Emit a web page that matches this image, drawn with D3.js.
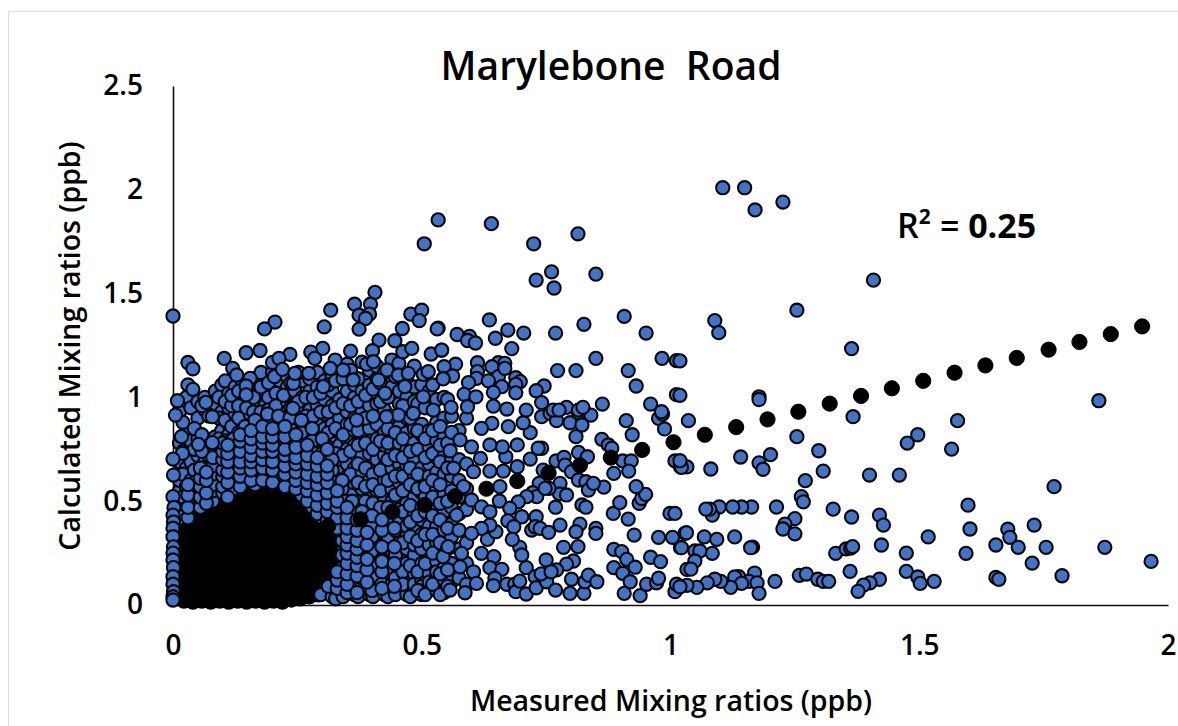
<!DOCTYPE html>
<html><head><meta charset="utf-8">
<script src="https://cdn.jsdelivr.net/npm/d3@7/dist/d3.min.js"></script>
<style>html,body{margin:0;background:#fff}svg{display:block}text{font-family:"Open Sans",sans-serif;fill:#000;white-space:pre}</style>
</head><body><svg id="c" width="1178" height="726"></svg>
<script>
const titleText = "Marylebone  Road";
const xLabel = "Measured Mixing ratios (ppb)";
const yLabel = "Calculated Mixing ratios (ppb)";
const xTicks = [0, 0.5, 1, 1.5, 2];
const yTicks = [0, 0.5, 1, 1.5, 2, 2.5];

// Model line drawn as black dots: [measured, calculated]
const trendPairs = [[0.312,0.38],[0.377,0.413],[0.441,0.449],[0.506,0.482],[0.567,0.524],[0.63,0.56],[0.692,0.597],[0.755,0.636],[0.818,0.673],[0.88,0.71],[0.943,0.747],[1.006,0.784],[1.069,0.82],[1.132,0.857],[1.195,0.894],[1.257,0.931],[1.32,0.97],[1.383,1.007],[1.445,1.044],[1.508,1.08],[1.571,1.119],[1.633,1.154],[1.696,1.19],[1.76,1.23],[1.822,1.267],[1.885,1.305],[1.948,1.342]];

// Points at measured ≈ 0
const zeroPairs = [[0,1.392],[0,0.703],[0.001,0.626],[0,0.522],[0.002,0.47],[0,0.433],[0.001,0.4],[0,0.37],[0,0.329],[0.001,0.28],[0,0.25],[0,0.217],[0.001,0.18],[0,0.136],[0,0.1],[0.001,0.064],[0,0.04],[0,0.024]];

// Sparse points, right of the cloud
const farPairs = [[1.105,2.01],[1.149,2.01],[1.17,1.903],[1.226,1.941],[1.408,1.565],[1.254,1.42],[1.089,1.37],[1.097,1.312],[1.364,1.235],[1.178,1.003],[1.178,0.99],[1.019,1.176],[1.019,1.01],[1.036,0.888],[1.254,0.811],[1.367,0.907],[1.577,0.888],[1.497,0.82],[1.476,0.78],[1.565,0.751],[1.298,0.743],[1.141,0.713],[1.201,0.724],[1.178,0.685],[1.186,0.654],[1.081,0.655],[1.033,0.665],[1.022,0.663],[1.019,0.695],[1.307,0.645],[1.271,0.599],[1.4,0.626],[1.46,0.626],[1.263,0.522],[1.267,0.497],[1.598,0.481],[1.327,0.462],[1.364,0.424],[1.42,0.433],[1.428,0.385],[1.602,0.366],[1.518,0.328],[1.424,0.289],[1.474,0.25],[1.594,0.249],[1.332,0.249],[1.353,0.27],[1.362,0.274],[1.366,0.281],[1.361,0.162],[1.474,0.162],[1.497,0.135],[1.502,0.104],[1.53,0.114],[1.42,0.124],[1.401,0.107],[1.388,0.096],[1.377,0.066],[1.259,0.143],[1.273,0.149],[1.296,0.124],[1.307,0.114],[1.318,0.114],[1.213,0.472],[1.25,0.416],[1.23,0.39],[1.226,0.366],[1.25,0.343],[1.163,0.472],[1.143,0.472],[1.125,0.472],[1.098,0.472],[1.084,0.433],[1.079,0.462],[1.071,0.462],[1.032,0.348],[1.068,0.328],[1.093,0.316],[1.129,0.328],[1.165,0.279],[1.161,0.276],[1.084,0.249],[1.049,0.26],[1.059,0.26],[1.022,0.276],[1.049,0.212],[1.041,0.173],[1.169,0.154],[1.21,0.114],[1.137,0.136],[1.129,0.135],[1.158,0.114],[1.174,0.107],[1.178,0.056],[1.143,0.104],[1.121,0.085],[1.101,0.114],[1.089,0.124],[1.074,0.107],[1.053,0.085],[1.033,0.095],[1.019,0.088],[1.861,0.984],[1.771,0.57],[1.678,0.365],[1.682,0.326],[1.731,0.385],[1.654,0.289],[1.699,0.278],[1.755,0.278],[1.873,0.278],[1.966,0.21],[1.727,0.202],[1.787,0.141],[1.654,0.133],[1.66,0.124]];

// Points from the upper-middle part of the cloud
const upperMidPairs = [[0.64,1.837],[0.533,1.855],[0.814,1.788],[0.725,1.74],[0.505,1.74],[0.761,1.605],[0.85,1.594],[0.73,1.565],[0.766,1.527],[0.907,1.39],[0.826,1.352],[0.636,1.373],[0.769,1.31],[0.951,1.31],[0.673,1.324],[0.705,1.31],[0.648,1.285],[0.571,1.303],[0.596,1.294],[0.592,1.274],[0.608,1.262],[0.533,1.334],[0.54,1.228],[0.681,1.235],[0.85,1.188],[0.983,1.188],[1.012,1.177],[0.915,1.129],[0.81,1.129],[0.773,1.129],[0.568,1.16],[0.612,1.167],[0.654,1.167],[0.667,1.164],[0.641,1.148],[0.545,1.148],[0.562,1.103],[0.543,1.092],[0.612,1.124],[0.61,1.092],[0.654,1.1],[0.667,1.14],[0.689,1.095],[0.698,1.076],[0.689,1.063],[0.634,1.08],[0.594,1.071],[0.661,1.052],[0.746,1.055],[0.73,1.032],[0.931,1.055],[1.012,1.013],[0.644,1.024],[0.585,1.015],[0.609,1.003],[0.689,1.022],[0.741,0.975],[0.863,0.968],[0.96,0.968],[0.644,0.958],[0.592,0.955],[0.559,0.952],[0.671,0.944],[0.71,0.939],[0.764,0.939],[0.791,0.952],[0.776,0.939],[0.815,0.939],[0.824,0.952],[0.982,0.931]];

// Points from the lower-middle part of the cloud
const lowerMidPairs = [[0.741,0.907],[0.758,0.923],[0.771,0.888],[0.798,0.878],[0.815,0.926],[0.84,0.915],[0.822,0.867],[0.81,0.811],[0.911,0.888],[0.923,0.82],[0.976,0.899],[0.984,0.92],[0.988,0.848],[1.009,0.694],[1.02,0.666],[0.862,0.798],[0.875,0.771],[0.882,0.755],[0.904,0.694],[0.921,0.694],[0.916,0.645],[0.886,0.634],[0.866,0.568],[0.815,0.735],[0.833,0.714],[0.77,0.694],[0.786,0.711],[0.788,0.674],[0.801,0.642],[0.815,0.602],[0.83,0.594],[0.835,0.554],[0.845,0.586],[0.778,0.586],[0.777,0.535],[0.791,0.53],[0.756,0.562],[0.744,0.65],[0.736,0.586],[0.723,0.541],[0.731,0.522],[0.748,0.562],[0.711,0.522],[0.694,0.497],[0.769,0.471],[0.822,0.482],[0.83,0.471],[0.677,0.466],[0.701,0.425],[0.73,0.425],[0.673,0.405],[0.685,0.377],[0.721,0.361],[0.728,0.377],[0.738,0.369],[0.755,0.35],[0.778,0.385],[0.818,0.39],[0.81,0.353],[0.85,0.369],[0.85,0.345],[0.785,0.278],[0.814,0.281],[0.805,0.212],[0.791,0.197],[0.75,0.217],[0.71,0.18],[0.697,0.278],[0.701,0.241],[0.682,0.316],[0.632,0.316],[0.649,0.353],[0.637,0.385],[0.62,0.369],[0.6,0.345],[0.62,0.249],[0.645,0.233],[0.637,0.18],[0.661,0.172],[0.647,0.129],[0.644,0.093],[0.671,0.1],[0.687,0.1],[0.689,0.064],[0.697,0.115],[0.71,0.053],[0.728,0.136],[0.73,0.083],[0.751,0.112],[0.769,0.072],[0.798,0.056],[0.826,0.056],[0.801,0.124],[0.828,0.112],[0.835,0.144],[0.852,0.112],[0.771,0.169],[0.74,0.15],[0.76,0.16],[0.886,0.268],[0.902,0.257],[0.912,0.22],[0.929,0.182],[0.886,0.18],[0.904,0.153],[0.919,0.112],[0.907,0.056],[0.939,0.045],[0.952,0.1],[0.972,0.107],[0.976,0.129],[0.96,0.23],[0.98,0.209],[1.033,0.172],[1.009,0.064],[1.012,0.1],[0.927,0.337],[0.976,0.326],[1.004,0.326],[1.029,0.345],[1.02,0.276],[0.999,0.441],[1.009,0.441],[0.885,0.441],[0.915,0.414],[0.898,0.493],[0.937,0.49],[0.942,0.513],[0.95,0.533],[0.931,0.57],[0.692,0.771],[0.718,0.83],[0.704,0.878],[0.741,0.755],[0.734,0.755],[0.718,0.703],[0.692,0.666],[0.664,0.645],[0.657,0.57],[0.656,0.501],[0.637,0.645],[0.669,0.714],[0.662,0.762],[0.641,0.875],[0.62,0.851],[0.674,0.859],[0.637,0.771],[0.618,0.706],[0.6,0.762],[0.604,0.642],[0.557,0.743],[0.56,0.832],[0.577,0.795],[0.564,0.659],[0.584,0.57],[0.6,0.506],[0.62,0.473],[0.637,0.449],[0.57,0.433],[0.577,0.184],[0.604,0.16],[0.61,0.104],[0.587,0.059],[0.557,0.072],[0.543,0.233],[0.58,0.249],[0.553,0.281]];

// Points along the upper edge of the cloud
const topEdgePairs = [[0.205,1.363],[0.184,1.33],[0.317,1.42],[0.304,1.34],[0.406,1.506],[0.365,1.449],[0.397,1.449],[0.374,1.396],[0.395,1.401],[0.387,1.38],[0.374,1.329],[0.478,1.401],[0.5,1.42],[0.495,1.37],[0.461,1.332],[0.531,1.33],[0.446,1.273],[0.414,1.276],[0.401,1.225],[0.357,1.223],[0.301,1.236],[0.277,1.218],[0.285,1.188],[0.235,1.207],[0.175,1.226],[0.147,1.215],[0.103,1.188],[0.03,1.168],[0.04,1.138],[0.03,1.06],[0.04,1.039],[0.009,0.984],[0.005,0.915],[0.066,0.976],[0.079,0.907],[0.017,0.811],[0.019,0.731],[0.079,0.782],[0.051,0.774],[0.2,1.168],[0.213,1.188],[0.12,1.14],[0.128,1.108],[0.155,1.092],[0.147,1.055],[0.147,1.012],[0.204,1.1],[0.22,1.135],[0.242,1.068],[0.245,1.116],[0.241,0.947],[0.273,1.116],[0.302,1.052],[0.326,1.18],[0.316,1.14],[0.342,1.132],[0.389,1.16],[0.403,1.172],[0.43,1.132],[0.454,1.164],[0.462,1.22],[0.48,1.236],[0.519,1.209],[0.54,1.228],[0.503,1.111],[0.513,1.124],[0.453,1.108],[0.473,1.116],[0.466,1.052],[0.543,1.089],[0.413,1.084],[0.362,1.084],[0.503,1.003],[0.483,0.923],[0.453,0.915],[0.426,1.02],[0.523,0.939],[0.429,0.907],[0.369,0.891]];

// Middle of the cloud, one short list per measured value: [measured, [calculated...]]
const cloudLeft = [
[0.013,[0.55,0.78,0.6,0.69,0.93,0.5]],[0.027,[0.66,0.47,0.84,0.57,0.73,1.0]],[0.02,[0.52,0.63,0.88,0.44,0.74]],
[0.036,[0.6,0.79,0.5,0.95,0.69,0.56]],[0.05,[0.72,0.53,0.9,0.62,0.8,0.47,0.98]],[0.043,[0.65,0.85,0.55,0.75,0.59]],
[0.064,[0.6,0.77,0.5,0.94,0.69,0.56,1.0]],[0.072,[0.67,0.55,0.79,0.62,0.72,0.91]],[0.058,[0.82,0.64,0.74,0.54,0.96]],
[0.085,[0.74,0.6,0.97,0.66,0.81,0.57,1.03]],[0.098,[0.69,0.84,0.62,0.93,0.77,1.06,0.72]],[0.092,[0.8,0.59,0.9,0.66,1.0,0.72]],
[0.112,[0.87,0.65,0.76,1.02,0.6,0.95,0.71,0.82]],[0.105,[0.98,0.7,0.62,0.89,0.79,1.08]],[0.125,[0.67,0.92,0.75,1.05,0.83,0.61,0.99,0.71]],
[0.118,[0.77,0.96,0.64,0.86,1.01,0.73]],[0.14,[0.88,0.66,1.0,0.73,0.93,0.81,1.07,0.62]],[0.132,[0.7,0.83,1.03,0.76,0.96,0.64,0.9]],
[0.155,[0.78,0.99,0.68,0.87,1.05,0.72,0.92,0.64]],[0.148,[0.95,0.74,0.85,0.67,1.02,0.8]],[0.17,[0.7,0.9,0.82,1.07,0.63,0.97,0.76,1.01,0.85]],
[0.162,[0.93,0.66,1.0,0.79,0.73,0.88,1.09]],[0.185,[0.84,0.69,0.96,1.1,0.75,0.9,0.65,1.03,0.79]],[0.177,[0.72,1.05,0.87,0.67,0.93,0.8,1.12]],
[0.2,[0.91,0.68,0.78,1.04,0.86,0.73,0.98,1.12,0.64]],[0.192,[0.7,0.82,1.0,0.76,1.07,0.94,0.66]],[0.215,[0.74,0.99,0.66,0.89,1.08,0.8,0.7,0.94,1.14]],
[0.207,[0.85,1.02,0.72,0.65,0.96,0.78,1.11]],[0.23,[0.93,0.7,1.05,0.82,0.64,0.87,0.76,1.1,0.98]],[0.222,[0.67,0.79,1.01,0.9,0.73,0.84]],
[0.245,[0.84,0.62,0.97,0.74,1.03,0.69,0.91,0.78]],[0.237,[0.72,0.88,0.66,1.07,0.8,0.95,0.6]],[0.26,[0.69,0.93,0.57,0.81,1.08,0.63,0.76,1.0,0.87]],
[0.252,[0.98,0.73,0.6,0.86,1.12,0.66,0.79]],[0.275,[0.82,0.58,1.03,0.7,0.94,0.64,0.76,1.09,0.88]],[0.267,[0.61,0.91,0.73,1.0,0.54,0.84,0.67]],
[0.29,[0.71,0.52,0.96,0.61,0.83,1.05,0.66,0.89,0.56,1.12]],[0.282,[0.91,0.63,0.78,0.5,1.0,0.73,0.56]]
];
const cloudRight = [
[0.305,[0.48,0.85,0.07,0.62,0.99,0.54,0.72,0.92,0.58,1.08,0.77,0.66]],[0.297,[0.6,0.44,0.8,1.02,0.53,0.69,0.93,0.05]],
[0.32,[0.74,0.5,0.04,0.87,0.57,1.1,0.66,0.96,0.42,0.8,1.03,0.61]],[0.312,[0.93,0.46,0.69,0.55,0.83,0.09,1.06,0.76]],
[0.335,[0.58,0.38,0.83,0.06,0.99,0.47,0.7,0.12,1.13,0.64,0.9,0.52,0.77]],[0.327,[0.44,0.73,0.03,0.95,0.61,0.85,0.54,1.08,0.41]],
[0.35,[0.8,0.34,0.56,1.03,0.08,0.68,0.45,0.93,0.16,0.62,0.75,1.16,0.39,0.87]],[0.342,[0.51,0.27,0.72,0.11,0.97,0.6,0.82,0.04,0.43,1.09,0.2]],
[0.365,[0.66,0.24,0.9,0.05,0.48,0.77,0.31,1.0,0.13,0.57,0.42,1.06,0.84,0.18,0.36]],[0.357,[0.29,0.74,0.09,0.53,0.96,0.4,0.63,0.22,0.87,1.13,0.46]],
[0.38,[0.5,0.15,0.81,0.28,1.03,0.64,0.07,0.38,0.93,0.21,0.72,0.44,1.17,0.56,0.33,0.87]],[0.372,[0.11,0.59,0.35,0.98,0.24,0.77,0.04,0.47,0.68,1.09,0.17,0.84]],
[0.395,[0.73,0.2,0.43,0.05,0.96,0.31,0.6,0.12,0.85,0.37,1.06,0.53,0.26,0.66,1.13,0.79]],[0.387,[0.4,0.08,0.66,0.27,0.9,0.15,0.5,1.01,0.34,0.78,0.57]],
[0.41,[0.28,0.87,0.06,0.55,0.16,0.7,0.39,1.09,0.22,0.97,0.46,0.62,0.1,0.8,0.33,1.15]],[0.402,[0.63,0.13,0.91,0.36,0.04,0.49,0.75,0.24,1.04,0.58]],
[0.425,[0.09,0.6,0.42,0.83,0.18,1.01,0.3,0.72,0.05,0.51,0.94,0.24,0.67,1.12,0.37,0.77]],[0.417,[0.47,0.21,0.79,0.12,0.35,0.65,0.98,0.55,0.27,1.07]],
[0.44,[0.74,0.14,0.35,0.91,0.06,0.56,0.26,1.05,0.44,0.66,0.19,0.82,0.1,0.5,1.18,0.39]],[0.432,[0.29,0.85,0.04,0.6,0.16,0.47,1.0,0.7,0.33,0.78]],
[0.455,[0.52,0.22,0.68,0.11,0.97,0.4,0.07,0.78,0.3,0.59,0.17,0.86,0.46,1.03,0.63,1.14]],[0.447,[0.13,0.72,0.36,0.53,0.05,0.83,0.24,0.62,1.1]],
[0.47,[0.33,0.9,0.08,0.58,0.2,0.75,0.43,0.13,0.67,0.27,1.0,0.49,0.83,0.05,0.38,1.08]],[0.462,[0.62,0.16,0.8,0.45,0.1,0.71,0.3,0.55,0.96]],
[0.485,[0.7,0.24,0.52,0.06,0.85,0.36,0.15,0.62,0.44,0.78,0.1,0.98,0.29,1.05,0.57,1.15]],[0.477,[0.19,0.48,0.9,0.33,0.66,0.04,0.74,0.4,0.58]],
[0.5,[0.41,0.12,0.66,0.27,0.82,0.05,0.54,0.2,0.74,0.34,1.06,0.6,0.47,0.87,0.09]],[0.492,[0.75,0.31,0.16,0.56,0.97,0.43,0.07,0.63,0.84]],
[0.515,[0.22,0.59,0.08,0.76,0.38,0.15,0.5,0.68,0.29,0.84,1.03,0.44,0.11,0.62]],[0.507,[0.52,0.05,0.71,0.34,0.2,0.8,0.45,0.57,0.95]],
[0.53,[0.64,0.3,0.13,0.47,0.79,0.21,0.56,0.07,0.71,0.38,0.88,0.99,0.16]],[0.522,[0.25,0.43,0.1,0.6,0.84,0.34,0.52,1.06,0.73]],
[0.545,[0.36,0.06,0.53,0.72,0.18,0.45,0.63,0.28,0.81,0.12,0.9,1.0]],[0.537,[0.58,0.15,0.41,0.77,0.3,0.69,0.05,0.49,0.86]],
[0.56,[0.47,0.11,0.62,0.33,0.7,0.2,0.55,0.39,0.91]],[0.552,[0.27,0.78,0.5,0.09,0.66,0.17,0.37,0.99]],
[0.575,[0.36,0.52,0.13,0.7,0.27,0.6,0.84,0.44]],[0.59,[0.1,0.46,0.68,0.2,0.3,0.56,0.9]]
];

// Darker band around the solid core, where many more circles overlap
const denseBand = [
[0.03,[0.42,0.47,0.53,0.58]],[0.055,[0.47,0.52,0.57,0.61,0.66]],[0.08,[0.5,0.55,0.58,0.63,0.67,0.71]],[0.1,[0.54,0.57,0.62,0.65,0.7,0.74,0.78]],
[0.067,[0.49,0.54,0.6,0.64]],[0.122,[0.56,0.6,0.63,0.68,0.72,0.75,0.8]],[0.11,[0.52,0.59,0.64,0.69,0.73,0.77]],[0.145,[0.6,0.64,0.67,0.71,0.75,0.78,0.83,0.86]],
[0.135,[0.57,0.62,0.66,0.69,0.74,0.79,0.82]],[0.165,[0.58,0.62,0.66,0.7,0.74,0.77,0.81,0.85,0.89]],[0.157,[0.6,0.65,0.69,0.72,0.76,0.8,0.84]],[0.19,[0.61,0.64,0.68,0.72,0.76,0.79,0.83,0.88,0.92]],
[0.18,[0.6,0.66,0.7,0.74,0.78,0.81,0.86]],[0.212,[0.6,0.63,0.67,0.71,0.75,0.79,0.82,0.87,0.91]],[0.2,[0.59,0.65,0.69,0.74,0.77,0.81,0.85]],[0.235,[0.58,0.62,0.65,0.69,0.73,0.77,0.8,0.85,0.9]],
[0.225,[0.57,0.63,0.67,0.72,0.75,0.81,0.86]],[0.258,[0.53,0.58,0.61,0.65,0.7,0.74,0.78,0.83,0.89]],[0.247,[0.56,0.6,0.64,0.68,0.71,0.76,0.82]],[0.28,[0.47,0.52,0.57,0.61,0.65,0.69,0.74,0.79,0.85]],
[0.27,[0.5,0.55,0.59,0.63,0.68,0.72,0.77]],[0.3,[0.42,0.46,0.5,0.55,0.59,0.64,0.68,0.73,0.8]],[0.29,[0.44,0.48,0.53,0.58,0.62,0.67,0.71]],[0.32,[0.38,0.43,0.47,0.52,0.56,0.6,0.65,0.7]],
[0.31,[0.41,0.45,0.49,0.54,0.59,0.63,0.67,0.75]],[0.34,[0.13,0.18,0.24,0.31,0.36,0.41,0.46,0.51,0.56,0.6]],[0.33,[0.08,0.12,0.16,0.37,0.42,0.47,0.5,0.55]],[0.36,[0.07,0.11,0.16,0.21,0.26,0.31,0.35,0.39,0.44,0.5]],
[0.35,[0.06,0.1,0.15,0.2,0.25,0.29,0.33,0.37,0.42,0.47]],[0.38,[0.09,0.13,0.18,0.24,0.29,0.34,0.4,0.45]],[0.37,[0.06,0.14,0.19,0.23,0.27,0.31,0.36,0.41]],[0.4,[0.07,0.14,0.19,0.26,0.33,0.38,0.43]],
[0.39,[0.11,0.17,0.22,0.29,0.35]],[0.42,[0.08,0.16,0.21,0.28,0.36,0.41]],[0.445,[0.09,0.2,0.28,0.37]]
];

// Where the overplotting is total, the circles' fills can no longer be seen: solid black
const saturatedLeft = [
[0.022,[0.02,0.07,0.12,0.17,0.22,0.27,0.32,0.36]],
[0.04,[0.015,0.05,0.09,0.13,0.17,0.21,0.25,0.29,0.33,0.37,0.41]],
[0.058,[0.02,0.06,0.1,0.14,0.18,0.22,0.26,0.3,0.34,0.38,0.42,0.45]],
[0.076,[0.015,0.05,0.09,0.13,0.17,0.21,0.25,0.29,0.33,0.37,0.41,0.47]],
[0.094,[0.02,0.06,0.1,0.14,0.18,0.22,0.26,0.3,0.34,0.38,0.42,0.46,0.52]],
[0.112,[0.015,0.05,0.09,0.13,0.17,0.21,0.25,0.29,0.33,0.37,0.41,0.45,0.49]],
[0.13,[0.02,0.06,0.1,0.14,0.18,0.22,0.26,0.3,0.34,0.38,0.42,0.46,0.5,0.55]],
[0.148,[0.015,0.05,0.09,0.13,0.17,0.21,0.25,0.29,0.33,0.37,0.41,0.45,0.49,0.53,0.57]],
[0.166,[0.02,0.06,0.1,0.14,0.18,0.22,0.26,0.3,0.34,0.38,0.42,0.46,0.5,0.54]]
];
const saturatedRight = [
[0.184,[0.015,0.05,0.09,0.13,0.17,0.21,0.25,0.29,0.33,0.37,0.41,0.45,0.49,0.53,0.59]],
[0.202,[0.02,0.06,0.1,0.14,0.18,0.22,0.26,0.3,0.34,0.38,0.42,0.46,0.5,0.54,0.57]],
[0.22,[0.015,0.05,0.09,0.13,0.17,0.21,0.25,0.29,0.33,0.37,0.41,0.45,0.49,0.53,0.6]],
[0.238,[0.025,0.06,0.1,0.14,0.18,0.22,0.26,0.3,0.34,0.38,0.42,0.46,0.5,0.54]],
[0.256,[0.03,0.07,0.11,0.15,0.19,0.23,0.27,0.31,0.35,0.39,0.43,0.47,0.51]],
[0.274,[0.04,0.08,0.12,0.16,0.2,0.24,0.28,0.32,0.36,0.4,0.44,0.48]],
[0.292,[0.05,0.09,0.13,0.17,0.21,0.25,0.29,0.33,0.37,0.41]],
[0.31,[0.1,0.15,0.2,0.24,0.28,0.32,0.36]],
[0.328,[0.18,0.23,0.28,0.33]]
];

const blue = "#4472C4";
const svg = d3.select("#c");
const x = d3.scaleLinear().domain([0, 2]).range([173, 1168]);
const y = d3.scaleLinear().domain([0, 2.5]).range([605, 86]);

// frame (top and left only)
svg.append("path").attr("d", "M8.5 726V11.5H1178").attr("fill", "none").attr("stroke", "#dedede").attr("stroke-width", 1.2);

const xAxis = svg.append("g").attr("transform", "translate(0,605)")
  .call(d3.axisBottom(x).tickValues(xTicks).tickFormat(d3.format("~g")).tickSize(0).tickPadding(30));
const yAxis = svg.append("g").attr("transform", "translate(173,0)")
  .call(d3.axisLeft(y).tickValues(yTicks).tickFormat(d3.format("~g")).tickSize(0).tickPadding(30));
for (const a of [xAxis, yAxis]) {
  a.select(".domain").attr("stroke", "#111").attr("stroke-width", 1.6);
  a.selectAll("text").attr("font-size", 28).attr("font-weight", 600).attr("font-family", '"Open Sans",sans-serif').attr("fill", "#000");
}

const flat = cols => cols.flatMap(([m, cs]) => cs.map(c => [m, c]));
function draw(data, fill, stroke, r, sw) {
  svg.append("g").selectAll("circle").data(data).join("circle")
    .attr("cx", d => x(d[0])).attr("cy", d => y(d[1]))
    .attr("r", r).attr("fill", fill).attr("stroke", stroke).attr("stroke-width", sw);
}
const ink = "#080808";
draw(flat(saturatedLeft).concat(flat(saturatedRight)), "#000", "#000", 6.8, 2.1);
draw(flat(cloudLeft), blue, ink, 6.6, 2.1);
draw(flat(cloudRight), blue, ink, 6.6, 2.1);
draw(flat(denseBand), blue, ink, 6.6, 2.1);
draw(lowerMidPairs, blue, ink, 6.6, 2.1);
draw(upperMidPairs, blue, ink, 6.6, 2.1);
draw(topEdgePairs, blue, ink, 6.6, 2.1);
draw(farPairs, blue, ink, 6.6, 2.1);
draw(zeroPairs, blue, ink, 6.6, 2.1);
draw(trendPairs, "#000", "#000", 7.6, 1);

svg.append("text").attr("x", 611).attr("y", 80).attr("text-anchor", "middle").attr("font-size", 39).attr("font-weight", 600).text(titleText);
svg.append("text").attr("x", 671).attr("y", 711).attr("text-anchor", "middle").attr("font-size", 28.5).attr("font-weight", 600).text(xLabel);
svg.append("text").attr("transform", "translate(80,346) rotate(-90)").attr("text-anchor", "middle").attr("font-size", 28.5).attr("font-weight", 600).text(yLabel);
const r2 = svg.append("text").attr("x", 897).attr("y", 238).attr("font-size", 34).attr("font-weight", 600);
r2.append("tspan").text("R² = ");
r2.append("tspan").attr("font-weight", 700).text("0.25");
</script></body></html>
